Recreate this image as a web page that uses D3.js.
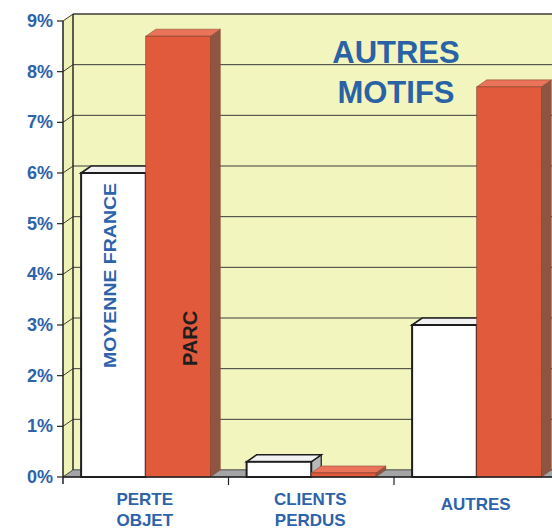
<!DOCTYPE html>
<html>
<head>
<meta charset="utf-8">
<script src="https://cdn.jsdelivr.net/npm/d3@7"></script>
<style>
body { margin: 0; background: #fff; }
svg { display: block; font-family: "Liberation Sans", Arial, sans-serif; font-weight: bold; }
</style>
</head>
<body>
<div class="chart"></div>
<script>
var categories = ["PERTE OBJET", "CLIENTS PERDUS", "AUTRES"];
var series = ["MOYENNE FRANCE", "PARC"];
var moyenneFrance = [6.0, 0.3, 3.0];
var parc = [8.7, 0.08, 7.7];
var yTicks = [0, 1, 2, 3, 4, 5, 6, 7, 8, 9];
var title = ["AUTRES", "MOTIFS"];

var width = 552;
var height = 531;
var dx = 10, dy = 7;   // depth of the 3D effect
var blue = "#2c63ab";

var svg = d3.select(".chart")
    .append("svg")
    .attr("width", width)
    .attr("height", height);

var y = d3.scaleLinear()
    .domain([0, 9])
    .range([477, 21]);

var x0 = d3.scaleBand()
    .domain(categories)
    .range([63, 63 + 3 * 165.5])
    .padding(0);

var x1 = d3.scaleBand()
    .domain(series)
    .range([0, x0.bandwidth()])
    .paddingInner(0)
    .paddingOuter(0.28);

var rows = categories.map(function (c, i) {
    return { cat: c, values: [moyenneFrance[i], parc[i]] };
});

var left = x0.range()[0];
var right = x0.range()[1] + 20;

// back wall
svg.append("rect")
    .attr("x", left + dx)
    .attr("y", y(9) - dy)
    .attr("width", right - left)
    .attr("height", y(0) - y(9))
    .attr("fill", "#f3f5be");

// left side wall
svg.append("path")
    .attr("d", "M" + left + "," + y(0) + "L" + left + "," + y(9) +
        "L" + (left + dx) + "," + (y(9) - dy) + "L" + (left + dx) + "," + (y(0) - dy) + "Z")
    .attr("fill", "#eef2b4");

// gridlines on back wall + diagonals on side wall
var grid = svg.append("g");
grid.selectAll("line.grid")
    .data(yTicks)
    .enter()
    .append("line")
    .attr("class", "grid")
    .attr("x1", left + dx)
    .attr("x2", right)
    .attr("y1", function (d) { return y(d) - dy; })
    .attr("y2", function (d) { return y(d) - dy; })
    .attr("stroke", "#3a3a3a")
    .attr("stroke-width", function (d) { return d == 9 ? 1.6 : 1; });

grid.selectAll("line.diag")
    .data(yTicks)
    .enter()
    .append("line")
    .attr("class", "diag")
    .attr("x1", left)
    .attr("x2", left + dx)
    .attr("y1", function (d) { return y(d); })
    .attr("y2", function (d) { return y(d) - dy; })
    .attr("stroke", "#3a3a3a")
    .attr("stroke-width", 1);

svg.append("line")
    .attr("x1", left + dx).attr("x2", left + dx)
    .attr("y1", y(9) - dy).attr("y2", y(0) - dy)
    .attr("stroke", "#2a2a2a")
    .attr("stroke-width", 1.5);

// floor
svg.append("path")
    .attr("d", "M" + left + "," + y(0) + "L" + (left + dx) + "," + (y(0) - dy) +
        "L" + right + "," + (y(0) - dy) + "L" + right + "," + y(0) + "Z")
    .attr("fill", "#a3a5a6")
    .attr("stroke", "#555")
    .attr("stroke-width", 0.8);

// bars
var colors = {
    "MOYENNE FRANCE": { front: "#ffffff", top: "#f2f2f2", side: "#b7b8b8", stroke: "#1e1e1e", sw: 2 },
    "PARC": { front: "#e15a3b", top: "#e9745a", side: "#8e5642", stroke: "#7a3a2a", sw: 0.6 }
};

var bw = x1.bandwidth();
var groups = svg.selectAll("g.cat")
    .data(rows)
    .enter()
    .append("g")
    .attr("class", "cat")
    .attr("transform", function (d) { return "translate(" + x0(d.cat) + ",0)"; });

groups.each(function (d) {
    var g = d3.select(this);
    series.forEach(function (s, i) {
        var v = d.values[i];
        var bx = x1(s), top = y(v), bot = y(0);
        var c = colors[s];
        g.append("path")
            .attr("d", "M" + (bx + bw) + "," + top + "L" + (bx + bw + dx) + "," + (top - dy) +
                "L" + (bx + bw + dx) + "," + (bot - dy) + "L" + (bx + bw) + "," + bot + "Z")
            .attr("fill", c.side)
            .attr("stroke", c.stroke)
            .attr("stroke-width", c.sw * 0.6);
        g.append("path")
            .attr("d", "M" + bx + "," + top + "L" + (bx + dx) + "," + (top - dy) +
                "L" + (bx + bw + dx) + "," + (top - dy) + "L" + (bx + bw) + "," + top + "Z")
            .attr("fill", c.top)
            .attr("stroke", c.stroke)
            .attr("stroke-width", c.sw * 0.8);
        g.append("rect")
            .attr("x", bx)
            .attr("y", top)
            .attr("width", bw)
            .attr("height", bot - top)
            .attr("fill", c.front)
            .attr("stroke", c.stroke)
            .attr("stroke-width", c.sw);
    });
});

// axes
svg.append("line")
    .attr("x1", left).attr("x2", left)
    .attr("y1", y(9)).attr("y2", y(0) + 7)
    .attr("stroke", "#222").attr("stroke-width", 1.5);

svg.append("line")
    .attr("x1", left).attr("x2", right)
    .attr("y1", y(0)).attr("y2", y(0))
    .attr("stroke", "#222").attr("stroke-width", 1.5);

svg.selectAll("line.ytick")
    .data(yTicks)
    .enter()
    .append("line")
    .attr("class", "ytick")
    .attr("x1", left - 6).attr("x2", left)
    .attr("y1", function (d) { return y(d); })
    .attr("y2", function (d) { return y(d); })
    .attr("stroke", "#222").attr("stroke-width", 1.2);

svg.selectAll("text.ylab")
    .data(yTicks)
    .enter()
    .append("text")
    .attr("class", "ylab")
    .attr("x", 53)
    .attr("y", function (d) { return y(d) + 6; })
    .attr("text-anchor", "end")
    .attr("font-size", 18)
    .attr("fill", blue)
    .text(function (d) { return d + "%"; });

svg.selectAll("line.xtick")
    .data(categories.slice(1))
    .enter()
    .append("line")
    .attr("class", "xtick")
    .attr("x1", function (d) { return x0(d); })
    .attr("x2", function (d) { return x0(d); })
    .attr("y1", y(0))
    .attr("y2", y(0) + 8)
    .attr("stroke", "#222").attr("stroke-width", 1.2);

// category labels
svg.selectAll("text.xlab")
    .data(categories)
    .enter()
    .append("text")
    .attr("class", "xlab")
    .attr("text-anchor", "middle")
    .attr("font-size", 17)
    .attr("fill", blue)
    .each(function (d) {
        var words = d.split(" ");
        var t = d3.select(this);
        var cx = x0(d) + x0.bandwidth() / 2 - 1;
        words.forEach(function (w, i) {
            t.append("tspan")
                .attr("x", cx)
                .attr("y", words.length == 1 ? 510 : 505 + i * 21)
                .text(w);
        });
    });

// series labels inside first group
var firstX = x0(categories[0]);
svg.append("text")
    .attr("transform", "translate(" + (firstX + x1(series[0]) + bw / 2 + 3) + ",368) rotate(-90)")
    .attr("font-size", 16)
    .attr("fill", blue)
    .attr("textLength", 185)
    .attr("lengthAdjust", "spacingAndGlyphs")
    .text(series[0]);

svg.append("text")
    .attr("transform", "translate(" + (firstX + x1(series[1]) + bw / 2 + 19) + ",366) rotate(-90)")
    .attr("font-size", 20)
    .attr("fill", "#1e1e1e")
    .text(series[1]);

// title
svg.append("text")
    .attr("text-anchor", "middle")
    .attr("font-size", 31)
    .attr("fill", "#2a62a6")
    .selectAll("tspan")
    .data(title)
    .enter()
    .append("tspan")
    .attr("x", 396)
    .attr("y", function (d, i) { return 63 + i * 40; })
    .text(function (d) { return d; });
</script>
</body>
</html>
